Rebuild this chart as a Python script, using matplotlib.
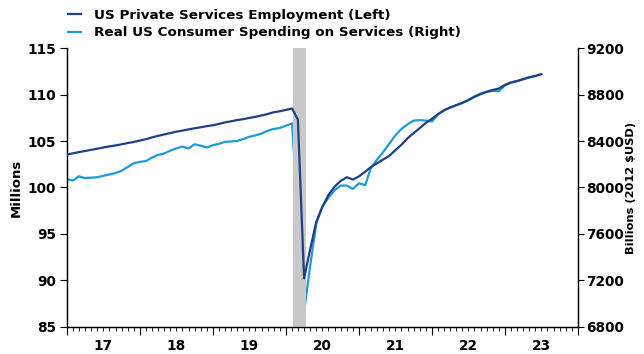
import matplotlib
matplotlib.use("Agg")
import matplotlib.pyplot as plt
import matplotlib.dates as mdates
import matplotlib.transforms as mtransforms
import pandas as pd

# Monthly series, Jan 2017 - Jul 2023
months = pd.date_range("2017-01-01", "2023-07-01", freq="MS")

# US private services employment, millions (left axis)
employment = [
    103.55, 103.68, 103.80, 103.92, 104.05, 104.17, 104.30, 104.42, 104.52, 104.65, 104.78, 104.90,
    105.05, 105.20, 105.38, 105.55, 105.70, 105.85, 106.00, 106.12, 106.25, 106.37, 106.48, 106.60,
    106.70, 106.85, 107.00, 107.12, 107.25, 107.35, 107.48, 107.60, 107.75, 107.90, 108.10, 108.20,
    108.35, 108.50, 107.30, 90.20, 93.30, 96.30, 97.90, 99.20, 100.10, 100.70, 101.10, 100.85,
    101.20, 101.70, 102.20, 102.60, 103.00, 103.40, 104.00, 104.60, 105.30, 105.85, 106.40, 106.95,
    107.40, 107.90, 108.30, 108.60, 108.85, 109.10, 109.40, 109.75, 110.05, 110.30, 110.50, 110.65,
    111.05, 111.30, 111.45, 111.65, 111.85, 112.00, 112.20,
]

# Real US consumer spending on services, billions of 2012 USD (right axis)
spending = [
    8072, 8060, 8096, 8080, 8084, 8088, 8100, 8112, 8124, 8144, 8176, 8208,
    8220, 8228, 8256, 8280, 8292, 8316, 8336, 8352, 8336, 8372, 8360, 8344,
    8364, 8376, 8392, 8396, 8400, 8416, 8436, 8448, 8464, 8488, 8504, 8512,
    8532, 8552, 7760, 6928, 7320, 7688, 7832, 7912, 7976, 8016, 8016, 7988,
    8036, 8020, 8168, 8240, 8304, 8376, 8448, 8504, 8544, 8576, 8580, 8576,
    8568, 8632, 8664, 8688, 8708, 8728, 8752, 8784, 8808, 8824, 8832, 8828,
    8880, 8904, 8916, 8932, 8948, 8960, 8976,
]

year_labels = ["17", "18", "19", "20", "21", "22", "23"]
recession = ("2020-02-08", "2020-04-10")

emp_label = "US Private Services Employment (Left)"
spend_label = "Real US Consumer Spending on Services (Right)"

DARK = "#213F86"
LIGHT = "#1E9BD7"

plt.rcParams.update({
    "font.family": "DejaVu Sans",
    "font.weight": "bold",
    "font.size": 9.8,
})

fig = plt.figure(figsize=(6.44, 3.54), dpi=100)
ax = fig.add_axes([0.104, 0.077, 0.7935, 0.787])
ax2 = ax.twinx()

ax.axvspan(pd.Timestamp(recession[0]), pd.Timestamp(recession[1]),
           color="#C8C8C8", lw=0, zorder=0)

l1, = ax.plot(months, employment, color=DARK, lw=1.6, zorder=3)
l2, = ax2.plot(months, spending, color=LIGHT, lw=1.6, zorder=2)
ax.set_zorder(ax2.get_zorder() + 1)
ax.patch.set_visible(False)

# left axis
ax.set_ylim(85, 115)
ax.set_yticks(range(85, 116, 5))
ax.set_ylabel("Millions", fontweight="bold", fontsize=9.5, labelpad=3)

# right axis
ax2.set_ylim(6800, 9200)
ax2.set_yticks(range(6800, 9201, 400))
ax2.set_ylabel("Billions (2012 $USD)", fontweight="bold", fontsize=8.2,
               labelpad=1)

# x axis: year boundaries as major ticks, months as minor ticks
ax.set_xlim(pd.Timestamp("2017-01-01"), pd.Timestamp("2024-01-01"))
ax.xaxis.set_major_locator(mdates.YearLocator())
ax.xaxis.set_minor_locator(mdates.MonthLocator())
ax.xaxis.set_major_formatter(plt.NullFormatter())
ax.tick_params(axis="x", which="major", length=6, width=0.8, direction="out")
ax.tick_params(axis="x", which="minor", length=3, width=0.6, direction="out")
ax.tick_params(axis="y", length=5, width=0.8, pad=3)
ax2.tick_params(axis="y", length=4, width=0.8, pad=2)

# year labels centred within each year
trans = mtransforms.blended_transform_factory(ax.transData, ax.transAxes)
for i, lab in enumerate(year_labels):
    mid = pd.Timestamp(f"{2017 + i}-07-02")
    ax.text(mdates.date2num(mid), -0.045, lab, transform=trans,
            ha="center", va="top", fontweight="bold")

for a in (ax, ax2):
    a.spines["top"].set_visible(False)
    for s in a.spines.values():
        s.set_linewidth(0.9)

fig.legend([l1, l2], [emp_label, spend_label], loc="upper left",
           bbox_to_anchor=(0.105, 0.975), frameon=False, borderpad=0,
           borderaxespad=0, handlelength=1.0, handletextpad=0.95,
           labelspacing=0.33, prop={"weight": "bold", "size": 9.7})

fig.savefig("out.png", dpi=100)
